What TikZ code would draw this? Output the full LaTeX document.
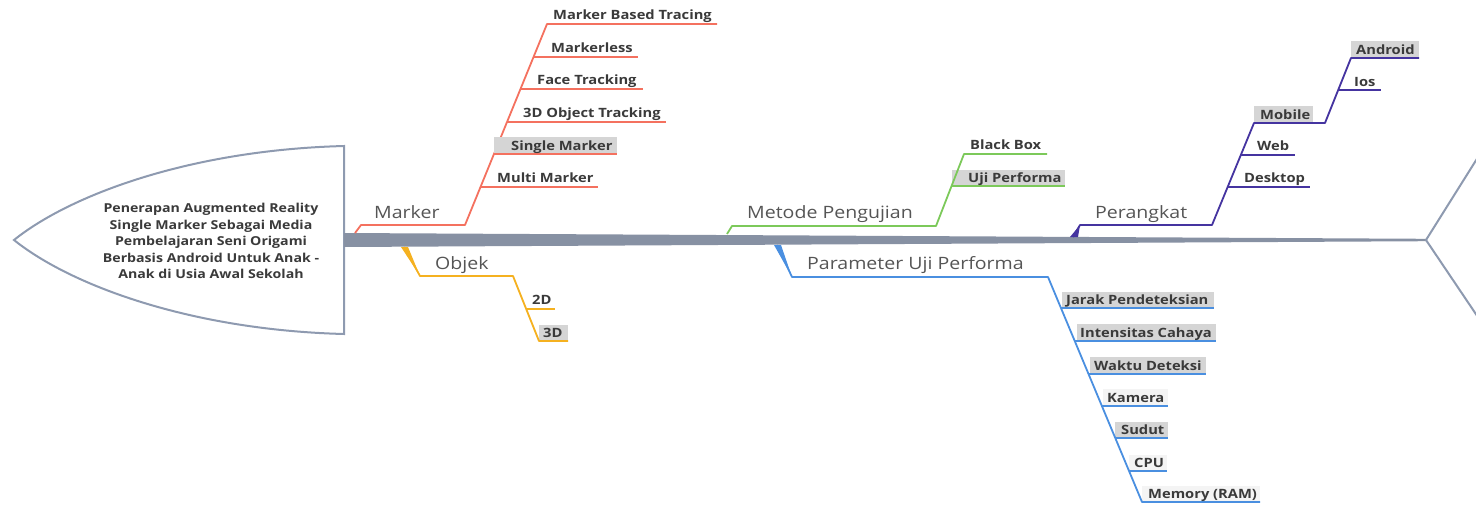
\documentclass[tikz,border=0pt]{standalone}
\usepackage{fontspec}
\setmainfont{Open Sans}[FakeStretch=1.15]
\usetikzlibrary{calc}

\definecolor{spinegray}{HTML}{8791A3}
\definecolor{headgray}{HTML}{8E9AB0}
\definecolor{cmarker}{HTML}{F4715F}
\definecolor{cobjek}{HTML}{F5B120}
\definecolor{cmetode}{HTML}{7CC95A}
\definecolor{cparam}{HTML}{4A8FE0}
\definecolor{cdevice}{HTML}{4534A0}
\definecolor{txtdark}{HTML}{3A3A3A}
\definecolor{txtmain}{HTML}{555555}
\definecolor{boxgray}{HTML}{D5D5D5}
\definecolor{boxlight}{HTML}{F4F4F4}

\tikzset{
  bone/.style={line width=1.8pt, line join=round},
  sublbl/.style={anchor=base west, inner sep=0pt, text=txtdark,
    font=\bfseries\fontsize{12.8}{12.8}\selectfont},
  mainlbl/.style={anchor=base west, inner sep=0pt, text=txtmain,
    font=\fontsize{17}{17}\selectfont},
}

\begin{document}
\begin{tikzpicture}[x=1pt,y=-1pt]
\useasboundingbox (0,0) rectangle (1476,504);

% ---------- head and spine ----------
\coordinate (hd) at (14,240);
\coordinate (ht) at (344,146);
\coordinate (hb) at (344,334);
\draw[headgray, line width=2pt, fill=white]
  (ht) .. controls (190,150) and (70,195) .. (hd)
       .. controls (70,285) and (190,330) .. (hb) -- cycle;
\node[align=center, text=txtdark, inner sep=0pt,
      font=\bfseries\fontsize{12.3}{16.5}\selectfont] (title) at (211,241)
  {Penerapan Augmented Reality\\Single Marker Sebagai Media\\Pembelajaran Seni Origami\\Berbasis Android Untuk Anak -\\Anak di Usia Awal Sekolah};

\fill[spinegray] (344,233) -- (1426,238.8) -- (1426,241.2) -- (344,247) -- cycle;
\coordinate (tail) at (1426,240);
\coordinate (tailup) at (1490,138);
\coordinate (taildn) at (1490,335);
\draw[headgray, line width=2pt] (tailup) -- (tail) -- (taildn);

% ---------- Marker ----------
\coordinate (mk0) at (355,233);
\coordinate (mk1) at (361,225);
\coordinate (mk2) at (465,225);
\coordinate (mk3) at (547,24);
\coordinate (mk4) at (717,24);
\draw[bone, cmarker] (mk0) -- (mk1) -- (mk2) -- (mk3) -- (mk4);
\node[mainlbl] (marker) at (374,218) {Marker};
\node[sublbl] (mbt) at (553,19) {Marker Based Tracing};
\coordinate (mkA) at (533.5,57); \coordinate (mkAe) at (638,57);
\coordinate (mkB) at (520.5,89); \coordinate (mkBe) at (643,89);
\coordinate (mkC) at (507,122);  \coordinate (mkCe) at (666,122);
\coordinate (mkD) at (494,154);  \coordinate (mkDe) at (617,154);
\coordinate (mkE) at (480.5,187);\coordinate (mkEe) at (598,187);
\fill[boxgray] (494,137) rectangle (617,154);
\draw[bone, cmarker] (mkA) -- (mkAe) (mkB) -- (mkBe) (mkC) -- (mkCe)
  (mkD) -- (mkDe) (mkE) -- (mkEe);
\node[sublbl] (mless) at (551,52) {Markerless};
\node[sublbl] (face) at (537,84) {Face Tracking};
\node[sublbl] (obj3d) at (523,117) {3D Object Tracking};
\node[sublbl] (single) at (511,150) {Single Marker};
\node[sublbl] (multi) at (497,182) {Multi Marker};

% ---------- Objek ----------
\coordinate (ob0) at (404,247);
\coordinate (ob1) at (420,276);
\coordinate (ob2) at (513,276);
\coordinate (ob3) at (539,341);
\coordinate (ob4) at (568,341);
\fill[cobjek] (401,247) -- (408,247) -- (ob1) -- cycle;
\fill[boxgray] (539,325) rectangle (568,341);
\draw[bone, cobjek] (ob0) -- (ob1) -- (ob2) -- (ob3) -- (ob4);
\coordinate (obA) at (526.2,309); \coordinate (obAe) at (555,309);
\draw[bone, cobjek] (obA) -- (obAe);
\node[mainlbl] (objek) at (435,269) {Objek};
\node[sublbl] (d2) at (532,304) {2D};
\node[sublbl] (d3) at (543,337) {3D};

% ---------- Metode Pengujian ----------
\coordinate (me0) at (727,234);
\coordinate (me1) at (732,226);
\coordinate (me2) at (936,226);
\coordinate (me3) at (964,154);
\coordinate (me4) at (1047,154);
\fill[boxgray] (952,170) rectangle (1065,186);
\draw[bone, cmetode] (me0) -- (me1) -- (me2) -- (me3) -- (me4);
\coordinate (meA) at (951.5,186); \coordinate (meAe) at (1065,186);
\draw[bone, cmetode] (meA) -- (meAe);
\node[mainlbl] (metode) at (747,218) {Metode Pengujian};
\node[sublbl] (bbox) at (970,149) {Black Box};
\node[sublbl] (ujip) at (968,182) {Uji Performa};

% ---------- Parameter Uji Performa ----------
\coordinate (pa0) at (777,245);
\coordinate (pa1) at (792,277);
\coordinate (pa2) at (1048,277);
\coordinate (pa3) at (1142,502);
\coordinate (pa4) at (1260,502);
\fill[cparam] (774,245) -- (781,245) -- (pa1) -- cycle;
\fill[boxgray]  (1062,292) rectangle (1214,308);
\fill[boxgray]  (1077,324) rectangle (1216,341);
\fill[boxgray]  (1090,357) rectangle (1206,374);
\fill[boxlight] (1103,389) rectangle (1168,406);
\fill[boxgray]  (1115,422) rectangle (1168,438);
\fill[boxlight] (1129,455) rectangle (1167,471);
\fill[boxlight] (1142,486) rectangle (1260,502);
\draw[bone, cparam] (pa0) -- (pa1) -- (pa2) -- (pa3) -- (pa4);
\coordinate (paA) at (1061,308);   \coordinate (paAe) at (1214,308);
\coordinate (paB) at (1074.7,341); \coordinate (paBe) at (1216,341);
\coordinate (paC) at (1088.5,374); \coordinate (paCe) at (1206,374);
\coordinate (paD) at (1102,406);   \coordinate (paDe) at (1168,406);
\coordinate (paE) at (1115,438);   \coordinate (paEe) at (1168,438);
\coordinate (paF) at (1129,471);   \coordinate (paFe) at (1167,471);
\draw[bone, cparam] (paA) -- (paAe) (paB) -- (paBe) (paC) -- (paCe)
  (paD) -- (paDe) (paE) -- (paEe) (paF) -- (paFe);
\node[mainlbl] (param) at (807,269) {Parameter Uji Performa};
\node[sublbl] (jarak) at (1066,304) {Jarak Pendeteksian};
\node[sublbl] (inten) at (1080,337) {Intensitas Cahaya};
\node[sublbl] (waktu) at (1094,370) {Waktu Deteksi};
\node[sublbl] (kamera) at (1107,402) {Kamera};
\node[sublbl] (sudut) at (1121,434) {Sudut};
\node[sublbl] (cpu) at (1134,467) {CPU};
\node[sublbl] (ram) at (1148,498) {Memory (RAM)};

% ---------- Perangkat ----------
\coordinate (pe0) at (1073,237);
\coordinate (pe1) at (1080,225);
\coordinate (pe2) at (1212,225);
\coordinate (pe3) at (1254,123);
\coordinate (pe4) at (1325,123);
\coordinate (pe5) at (1351,58);
\coordinate (pe6) at (1419,58);
\fill[cdevice] (1070,237) -- (1078,237) -- (pe1) -- cycle;
\fill[boxgray] (1254,106) rectangle (1313,123);
\fill[boxgray] (1351,41) rectangle (1419,58);
\draw[bone, cdevice] (pe0) -- (pe1) -- (pe2) -- (pe3) -- (pe4) -- (pe5) -- (pe6);
\coordinate (peA) at (1240.7,155); \coordinate (peAe) at (1295,155);
\coordinate (peB) at (1227.6,187); \coordinate (peBe) at (1310,187);
\coordinate (peC) at (1338,90);    \coordinate (peCe) at (1381,90);
\draw[bone, cdevice] (peA) -- (peAe) (peB) -- (peBe) (peC) -- (peCe);
\node[mainlbl] (perangkat) at (1095,218) {Perangkat};
\node[sublbl] (mobile) at (1260,119) {Mobile};
\node[sublbl] (web) at (1257,150) {Web};
\node[sublbl] (desktop) at (1244,182) {Desktop};
\node[sublbl] (android) at (1356,54) {Android};
\node[sublbl] (ios) at (1354,86) {Ios};
\end{tikzpicture}
\end{document}
